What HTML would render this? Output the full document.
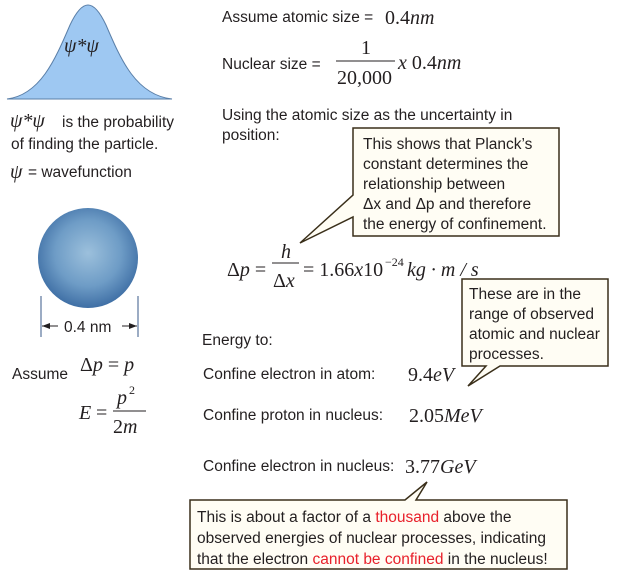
<!DOCTYPE html>
<html><head><meta charset="utf-8"><style>
html,body{margin:0;padding:0;background:#fff;}
svg{display:block;}
.s{font-family:"Liberation Sans",sans-serif;font-size:15.5px;fill:#231f20;}
.b{font-family:"Liberation Sans",sans-serif;font-size:15.5px;fill:#231f20;}
.m{font-family:"Liberation Serif",serif;font-size:20px;fill:#231f20;}
.sup{font-family:"Liberation Serif",serif;font-size:12px;fill:#231f20;}
.i{font-style:italic;}
.r{fill:#e8202a;}
</style></head><body>
<svg width="618" height="579" viewBox="0 0 618 579" xmlns="http://www.w3.org/2000/svg">
<defs>
<radialGradient id="g" cx="0.5" cy="0.45" r="0.55">
<stop offset="0" stop-color="#9cc0dc"/><stop offset="0.6" stop-color="#6e9cc6"/><stop offset="1" stop-color="#3f6fa5"/>
</radialGradient>
</defs>
<path d="M7,99 C40,95 55,60 70,25 C78,8 84,5 88,5 C92,5 98,8 106,25 C121,60 136,95 172,99 Z" fill="#9ec8f2" stroke="#5a7fa8" stroke-width="1"/>
<text x="64" y="52" class="m i">ψ*ψ</text>
<text x="10" y="127" class="m i">ψ*ψ</text>
<text x="62" y="127" class="s">is the probability</text>
<text x="11" y="149" class="s">of finding the particle.</text>
<text x="10" y="178" class="m i">ψ</text>
<text x="28" y="177" class="s">= wavefunction</text>
<circle cx="88" cy="258" r="50" fill="url(#g)"/>
<line x1="41" y1="296" x2="41" y2="337" stroke="#3a5a8a" stroke-width="1"/>
<line x1="138" y1="296" x2="138" y2="337" stroke="#3a5a8a" stroke-width="1"/>
<line x1="42" y1="326" x2="58" y2="326" stroke="#231f20"/>
<path d="M42,326 L50,323 L50,329 Z" fill="#231f20"/>
<line x1="122" y1="326" x2="137" y2="326" stroke="#231f20"/>
<path d="M137,326 L129,323 L129,329 Z" fill="#231f20"/>
<text x="64" y="332" class="s">0.4 nm</text>
<text x="12" y="379" class="s">Assume</text>
<text x="80" y="371" class="m"><tspan>Δ</tspan><tspan class="i">p</tspan> = <tspan class="i">p</tspan></text>
<text x="79" y="419" class="m i">E</text><text x="96" y="419" class="m">=</text>
<text x="117" y="404" class="m i">p</text><text x="129" y="394" class="sup">2</text>
<line x1="113" y1="411" x2="146" y2="411" stroke="#231f20" stroke-width="1"/>
<text x="113" y="433" class="m">2<tspan class="i">m</tspan></text>
<text x="222" y="22" class="s">Assume atomic size =</text>
<text x="385" y="24" class="m">0.4<tspan class="i">nm</tspan></text>
<text x="222" y="69" class="s">Nuclear size =</text>
<text x="361" y="54" class="m">1</text>
<line x1="336" y1="61" x2="395" y2="61" stroke="#231f20" stroke-width="1"/>
<text x="337" y="84" class="m">20,000</text>
<text x="398" y="69" class="m"><tspan class="i">x</tspan> 0.4<tspan class="i">nm</tspan></text>
<text x="222" y="120" class="s">Using the atomic size as the uncertainty in</text>
<text x="222" y="140" class="s">position:</text>
<path d="M353,128 H559 V236 H353 V217 L300,243 L353,195 Z" fill="#fffdf4" stroke="#3a2f1a" stroke-width="1.5"/>
<text x="363" y="149" class="b">This shows that Planck’s</text>
<text x="363" y="169" class="b">constant determines the</text>
<text x="363" y="189" class="b">relationship between</text>
<text x="363" y="209" class="b">Δx and Δp and therefore</text>
<text x="363" y="229" class="b">the energy of confinement.</text>
<text x="227" y="276" class="m">Δ<tspan class="i">p</tspan> =</text>
<text x="281" y="258" class="m i">h</text>
<line x1="272" y1="263" x2="299" y2="263" stroke="#231f20" stroke-width="1"/>
<text x="273" y="287" class="m">Δ<tspan class="i">x</tspan></text>
<text x="303" y="276" class="m">= 1.66<tspan class="i">x</tspan>10</text>
<text x="385" y="266" class="sup">−24</text>
<text x="407" y="276" class="m i">kg · m / s</text>
<path d="M462,279 H608 V366 H500 L468,386 L486,366 H462 Z" fill="#fffdf4" stroke="#3a2f1a" stroke-width="1.5"/>
<text x="469" y="299" class="b">These are in the</text>
<text x="469" y="319" class="b">range of observed</text>
<text x="469" y="339" class="b">atomic and nuclear</text>
<text x="469" y="359" class="b">processes.</text>
<text x="202" y="345" class="s">Energy to:</text>
<text x="203" y="379" class="s">Confine electron in atom:</text>
<text x="408" y="381" class="m">9.4<tspan class="i">eV</tspan></text>
<text x="203" y="420" class="s">Confine proton in nucleus:</text>
<text x="409" y="422" class="m">2.05<tspan class="i">MeV</tspan></text>
<text x="203" y="471" class="s">Confine electron in nucleus:</text>
<text x="405" y="473" class="m">3.77<tspan class="i">GeV</tspan></text>
<path d="M190,500 H405 L427,482 L416,500 H567 V569 H190 Z" fill="#fffdf4" stroke="#3a2f1a" stroke-width="1.5"/>
<text x="197" y="522" class="b">This is about a factor of a <tspan class="r">thousand</tspan> above the</text>
<text x="197" y="543" class="b">observed energies of nuclear processes, indicating</text>
<text x="197" y="564" class="b">that the electron <tspan class="r">cannot be confined</tspan> in the nucleus!</text>
</svg>
</body></html>
